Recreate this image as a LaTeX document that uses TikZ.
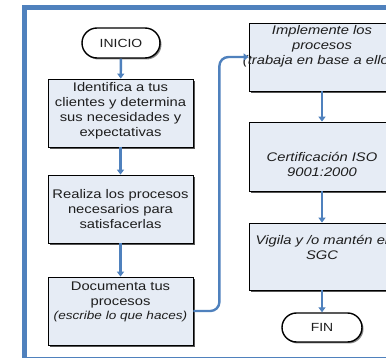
\documentclass[tikz,border=0pt]{standalone}
\usepackage{fontspec}
\setmainfont[FakeStretch=1.18]{Liberation Sans}
\usetikzlibrary{shapes.misc,shadows,arrows.meta}
\definecolor{frameblue}{HTML}{4F81BD}
\definecolor{boxfill}{HTML}{E6ECF5}
\definecolor{shadowgray}{HTML}{555555}
\definecolor{txt}{HTML}{1E1E1E}
\begin{document}
\begin{tikzpicture}[x=1pt,y=-1pt,
  box/.style={draw=black, line width=0.8pt, fill=boxfill, minimum width=145pt, minimum height=68pt, inner sep=0pt,
    drop shadow={shadow xshift=2pt, shadow yshift=-2pt, fill=shadowgray, opacity=1}},
  term/.style={rounded rectangle, draw=black, line width=1.4pt, fill=white, minimum width=78pt, minimum height=30pt, inner sep=0pt,
    drop shadow={shadow xshift=1.5pt, shadow yshift=-1.5pt, fill=shadowgray!70, opacity=1},
    font=\fontsize{11.8}{14}\selectfont, text=txt},
  lbl/.style={align=center, inner sep=0pt, text=txt, font=\fontsize{12.5}{15}\selectfont},
  ilbl/.style={lbl, font=\fontsize{12.5}{15}\selectfont\itshape},
  flow/.style={draw=frameblue, line width=2.4pt, -{Triangle[length=5pt,width=7pt]}},
  frame/.style={draw=frameblue, line width=5pt}]
\useasboundingbox (0,0) rectangle (386,358);
\clip (0,0) rectangle (386,358);
\fill[white] (0,0) rectangle (386,358);
\draw[frame] (24.5,7.5) rectangle (400,359.5);
% left column
\node[term] (inicio) at (121,43) {INICIO};
\node[box] (b1) at (120.5,113) {};
\node[box] (b2) at (120.5,209) {};
\node[box] (b3) at (120.5,311) {};
\node[lbl] (t1) at (120.5,110.5) {Identifica a tus\\clientes y determina\\sus necesidades y\\expectativas};
\node[lbl] (t2) at (120.5,209) {Realiza los procesos\\necesarios para\\satisfacerlas};
\node[lbl] (t3) at (120.5,295) {Documenta tus\\procesos};
\node[ilbl, font=\fontsize{11.5}{13}\selectfont\itshape] (t3b) at (120.5,317) {(escribe lo que haces)};
% right column
\node[box, minimum width=146pt] (b4) at (322,57) {};
\node[box, minimum width=146pt, minimum height=69pt] (b5) at (322,156.5) {};
\node[box, minimum width=146pt, minimum height=67pt] (b6) at (322,256.5) {};
\node[term, minimum width=80pt, minimum height=29pt] (fin) at (322,327.5) {FIN};
\node[ilbl] (t4) at (322,46) {Implemente los\\procesos\\(trabaja en base a ellos)};
\node[ilbl] (t5) at (322,164) {Certificación ISO\\9001:2000};
\node[ilbl] (t6) at (322,247.5) {Vigila y /o mantén el\\SGC};
% connectors
\draw[flow] (inicio) -- (b1);
\draw[flow] (b1) -- (b2);
\draw[flow] (b2) -- (b3);
\draw[flow, rounded corners=9pt] (b3.east) -- ++(26,0) |- (b4.west);
\draw[flow] (b4) -- (b5);
\draw[flow] (b5) -- (b6);
\draw[flow] (b6) -- (fin);
\end{tikzpicture}
\end{document}
